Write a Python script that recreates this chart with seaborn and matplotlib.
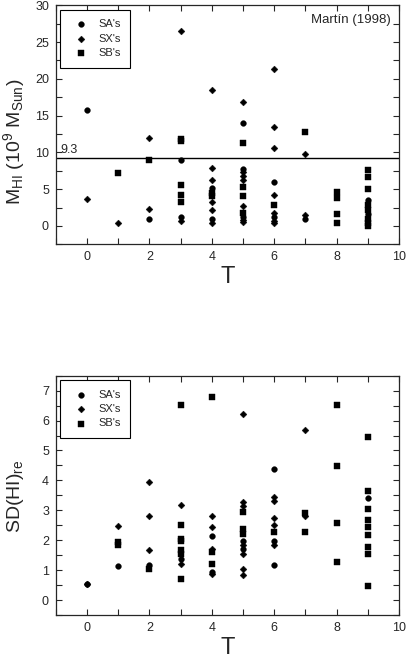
import matplotlib
matplotlib.use("Agg")
import matplotlib.pyplot as plt
import seaborn as sns
import pandas as pd
from matplotlib.ticker import MultipleLocator

# top panel: HI mass (1e9 Msun) against type T
mhi_sa_t = [0, 2, 3, 3, 4, 4, 5, 5, 5, 6, 6, 7, 9, 9]
mhi_sa_v = [15.8, 0.9, 8.9, 1.2, 5.1, 0.9, 14.0, 7.8, 1.2, 6.0, 1.2, 1.0, 3.5, 1.6]
mhi_sx_t = [0, 1, 2, 2, 3, 3, 4, 4, 4, 4, 4, 4, 5, 5, 5, 5, 5, 5, 5,
            6, 6, 6, 6, 6, 6, 6, 7, 7]
mhi_sx_v = [3.7, 0.4, 11.9, 2.3, 26.5, 0.6, 18.5, 7.9, 6.2, 3.3, 2.1, 0.4,
            16.9, 7.3, 6.8, 6.3, 2.7, 0.8, 0.5,
            21.3, 13.4, 10.6, 4.2, 1.7, 0.7, 0.4, 9.8, 1.5]
mhi_sb_t = [1, 2, 3, 3, 3, 3, 3, 4, 4, 5, 5, 5, 5, 6, 7, 8, 8, 8, 8,
            9, 9, 9, 9, 9, 9, 9, 9]
mhi_sb_v = [7.2, 8.9, 11.8, 11.5, 5.5, 4.2, 3.3, 4.5, 4.0, 11.3, 5.3, 4.1, 1.7,
            2.9, 12.8, 4.6, 3.8, 1.6, 0.4, 7.6, 6.7, 5.0, 2.8, 2.2, 1.0, 0.4, 0.0]

# bottom panel: SD(HI)_re against type T
sd_sa_t = [0, 1, 2, 3, 4, 4, 5, 5, 6, 6, 6, 9]
sd_sa_v = [0.55, 1.13, 1.17, 1.36, 2.15, 0.94, 1.97, 1.7, 4.37, 1.18, 1.97, 3.42]
sd_sx_t = [0, 1, 2, 2, 2, 3, 3, 4, 4, 4, 4, 5, 5, 5, 5, 5, 5, 5,
           6, 6, 6, 6, 6, 7, 7]
sd_sx_v = [0.55, 2.46, 3.95, 2.8, 1.66, 3.19, 1.21, 2.81, 2.45, 1.7, 0.88,
           6.21, 3.28, 3.14, 1.85, 1.53, 1.05, 0.83,
           3.46, 3.31, 2.73, 2.51, 1.84, 5.7, 2.81]
sd_sb_t = [1, 1, 2, 3, 3, 3, 3, 3, 3, 3, 4, 4, 4, 5, 5, 5, 6, 7, 7,
           8, 8, 8, 8, 9, 9, 9, 9, 9, 9, 9, 9, 9]
sd_sb_v = [1.94, 1.83, 1.03, 6.53, 2.5, 2.03, 1.97, 1.67, 1.53, 0.71,
           6.78, 1.62, 1.19, 2.94, 2.36, 2.2, 2.28, 2.92, 2.26,
           6.53, 4.47, 2.58, 1.27, 5.45, 3.65, 3.03, 2.68, 2.45, 2.18, 1.77, 1.53, 0.46]

m_cut = 9.3

sns.set_style("ticks")
plt.rcParams["font.family"] = ["Liberation Sans", "DejaVu Sans"]
plt.rcParams["mathtext.default"] = "regular"

fig = plt.figure(figsize=(4.08, 6.62), dpi=100)
ax1 = fig.add_axes([0.137, 0.631, 0.841, 0.361])
ax2 = fig.add_axes([0.137, 0.071, 0.841, 0.3615])


def draw(ax, groups):
    for t, v, lab, mk, s in groups:
        d = pd.DataFrame({"T": t, "val": v})
        sns.scatterplot(data=d, x="T", y="val", marker=mk, s=s, color="black",
                        edgecolor="black", linewidth=0.3, label=lab, ax=ax)
    ax.set_xlim(-1, 10)
    ax.xaxis.set_major_locator(MultipleLocator(2))
    ax.xaxis.set_minor_locator(MultipleLocator(1))
    ax.tick_params(which="both", direction="in", top=True, right=True,
                   length=4, width=0.8, labelsize=9, pad=5)
    for sp in ax.spines.values():
        sp.set_linewidth(0.9)
    ax.set_xlabel("T", fontsize=17, labelpad=2)
    leg = ax.legend(loc="upper left", fontsize=8, frameon=True, fancybox=False,
                    edgecolor="black", framealpha=1, borderpad=0.85,
                    handletextpad=0.6, labelspacing=0.4, borderaxespad=0.4,
                    markerscale=1.0)
    leg.get_frame().set_linewidth(0.8)


draw(ax1, [(mhi_sa_t, mhi_sa_v, "SA's", "o", 17),
           (mhi_sx_t, mhi_sx_v, "SX's", "D", 12),
           (mhi_sb_t, mhi_sb_v, "SB's", "s", 22)])
ax1.set_ylim(-2.5, 30)
ax1.yaxis.set_major_locator(MultipleLocator(5))
ax1.yaxis.set_minor_locator(MultipleLocator(2.5))
ax1.axhline(m_cut, color="black", lw=1)
ax1.text(-0.85, m_cut + 0.2, "9.3", fontsize=9, va="bottom", ha="left")
ax1.text(9.72, 28.8, "Martín (1998)", fontsize=9.5, va="top", ha="right")
ax1.set_ylabel(r"M$_{HI}$ (10$^9$ M$_{Sun}$)", fontsize=14)
ax1.yaxis.set_label_coords(-0.085, 0.427)

draw(ax2, [(sd_sa_t, sd_sa_v, "SA's", "o", 17),
           (sd_sx_t, sd_sx_v, "SX's", "D", 12),
           (sd_sb_t, sd_sb_v, "SB's", "s", 22)])
ax2.set_ylim(-0.5, 7.5)
ax2.yaxis.set_major_locator(MultipleLocator(1))
ax2.yaxis.set_minor_locator(MultipleLocator(0.5))
ax2.set_ylabel(r"SD(HI)$_{re}$", fontsize=14)
ax2.yaxis.set_label_coords(-0.088, 0.495)

fig.savefig("out.png", dpi=100)
